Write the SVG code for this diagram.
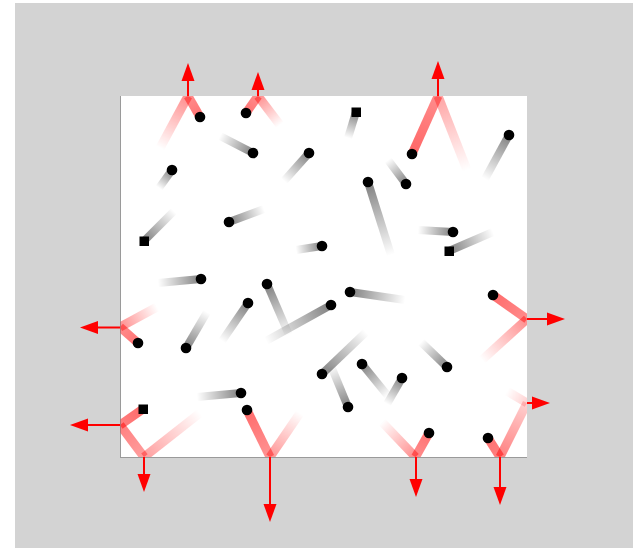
<svg xmlns="http://www.w3.org/2000/svg" xmlns:xlink="http://www.w3.org/1999/xlink" width="637" height="548" viewBox="0 0 637 548">
<style>
.tk{fill:none;stroke-width:8}
.tr{fill:none;stroke-width:9}
.dot{fill:#000}
.arr{stroke:#f00;stroke-width:2;fill:none}
</style>
<defs>
<clipPath id="box"><rect x="120.5" y="96" width="406.5" height="361"/></clipPath>
<filter id="soft" x="-5%" y="-5%" width="110%" height="110%"><feGaussianBlur stdDeviation="0.6"/></filter>
<marker id="ah" markerUnits="userSpaceOnUse" markerWidth="18" markerHeight="13" refX="0" refY="6.5" orient="auto" overflow="visible"><path d="M0,0 L18,6.5 L0,13 Z" fill="#f00"/></marker>
<linearGradient id="gk" gradientUnits="userSpaceOnUse"><stop offset="0" stop-color="#000" stop-opacity="0.5"/><stop offset="1" stop-color="#000" stop-opacity="0"/></linearGradient>
<linearGradient id="rk" gradientUnits="userSpaceOnUse"><stop offset="0" stop-color="#f00" stop-opacity="1"/><stop offset="1" stop-color="#f00" stop-opacity="0"/></linearGradient>
<linearGradient id="g1" xlink:href="#gk" x1="253" y1="153" x2="220" y2="136"/>
<linearGradient id="g2" xlink:href="#gk" x1="309" y1="153" x2="284" y2="181"/>
<linearGradient id="g3" xlink:href="#gk" x1="172" y1="170" x2="159" y2="188"/>
<linearGradient id="g4" xlink:href="#gk" x1="144" y1="241" x2="174" y2="211"/>
<linearGradient id="g5" xlink:href="#gk" x1="229" y1="222" x2="264" y2="209"/>
<linearGradient id="g6" xlink:href="#gk" x1="322" y1="246" x2="296" y2="250"/>
<linearGradient id="g7" xlink:href="#gk" x1="356" y1="112" x2="348" y2="138"/>
<linearGradient id="g8" xlink:href="#gk" x1="509" y1="135" x2="485" y2="179"/>
<linearGradient id="g9" xlink:href="#gk" x1="406" y1="184" x2="388" y2="160"/>
<linearGradient id="g10" xlink:href="#gk" x1="368" y1="182" x2="391" y2="255"/>
<linearGradient id="g11" xlink:href="#gk" x1="453" y1="232" x2="418" y2="230"/>
<linearGradient id="g12" xlink:href="#gk" x1="449" y1="251" x2="493" y2="232"/>
<linearGradient id="g13" xlink:href="#gk" x1="201" y1="279" x2="158" y2="283"/>
<linearGradient id="g14" xlink:href="#gk" x1="267" y1="284" x2="289" y2="335"/>
<linearGradient id="g15" xlink:href="#gk" x1="248" y1="303" x2="222" y2="341"/>
<linearGradient id="g16" xlink:href="#gk" x1="186" y1="348" x2="207" y2="312"/>
<linearGradient id="g17" xlink:href="#gk" x1="350" y1="292" x2="405" y2="300"/>
<linearGradient id="g18" xlink:href="#gk" x1="331" y1="305" x2="266" y2="341"/>
<linearGradient id="g19" xlink:href="#gk" x1="447" y1="367" x2="421" y2="342"/>
<linearGradient id="g20" xlink:href="#gk" x1="322" y1="374" x2="366" y2="332"/>
<linearGradient id="g21" xlink:href="#gk" x1="348" y1="407" x2="331" y2="366"/>
<linearGradient id="g22" xlink:href="#gk" x1="362" y1="364" x2="388" y2="396"/>
<linearGradient id="g23" xlink:href="#gk" x1="402" y1="378" x2="387" y2="404"/>
<linearGradient id="g24" xlink:href="#gk" x1="241" y1="393" x2="197" y2="397"/>
<linearGradient id="r1a" gradientUnits="userSpaceOnUse" x1="200" y1="117" x2="188" y2="96"><stop offset="0" stop-color="#f00" stop-opacity=".55"/><stop offset="1" stop-color="#f00" stop-opacity=".45"/></linearGradient>
<linearGradient id="r1b" xlink:href="#rk" x1="188" y1="96" x2="160" y2="148"/>
<linearGradient id="r2a" gradientUnits="userSpaceOnUse" x1="246" y1="113" x2="258" y2="96"><stop offset="0" stop-color="#f00" stop-opacity=".55"/><stop offset="1" stop-color="#f00" stop-opacity=".45"/></linearGradient>
<linearGradient id="r2b" xlink:href="#rk" x1="258" y1="96" x2="280" y2="125"/>
<linearGradient id="r3a" gradientUnits="userSpaceOnUse" x1="412" y1="154" x2="438" y2="96"><stop offset="0" stop-color="#f00" stop-opacity=".6"/><stop offset="1" stop-color="#f00" stop-opacity=".45"/></linearGradient>
<linearGradient id="r3b" xlink:href="#rk" x1="438" y1="96" x2="467" y2="170"/>
<linearGradient id="r4a" gradientUnits="userSpaceOnUse" x1="493" y1="295" x2="527" y2="319"><stop offset="0" stop-color="#f00" stop-opacity=".58"/><stop offset="1" stop-color="#f00" stop-opacity=".45"/></linearGradient>
<linearGradient id="r4b" xlink:href="#rk" x1="527" y1="319" x2="482" y2="360"/>
<linearGradient id="r5a" gradientUnits="userSpaceOnUse" x1="138" y1="343" x2="120" y2="327"><stop offset="0" stop-color="#f00" stop-opacity=".55"/><stop offset="1" stop-color="#f00" stop-opacity=".45"/></linearGradient>
<linearGradient id="r5b" xlink:href="#rk" x1="120" y1="327" x2="157" y2="307"/>
<linearGradient id="r6a" gradientUnits="userSpaceOnUse" x1="143" y1="409" x2="120" y2="425"><stop offset="0" stop-color="#f00" stop-opacity=".58"/><stop offset="1" stop-color="#f00" stop-opacity=".5"/></linearGradient>
<linearGradient id="r6b" gradientUnits="userSpaceOnUse" x1="120" y1="425" x2="144" y2="457"><stop offset="0" stop-color="#f00" stop-opacity=".5"/><stop offset="1" stop-color="#f00" stop-opacity=".38"/></linearGradient>
<linearGradient id="r6c" xlink:href="#rk" x1="144" y1="457" x2="200" y2="413"/>
<linearGradient id="r7a" gradientUnits="userSpaceOnUse" x1="247" y1="410" x2="270" y2="457"><stop offset="0" stop-color="#f00" stop-opacity=".58"/><stop offset="1" stop-color="#f00" stop-opacity=".42"/></linearGradient>
<linearGradient id="r7b" xlink:href="#rk" x1="270" y1="457" x2="300" y2="413"/>
<linearGradient id="r8a" gradientUnits="userSpaceOnUse" x1="429" y1="433" x2="415.5" y2="457"><stop offset="0" stop-color="#f00" stop-opacity=".55"/><stop offset="1" stop-color="#f00" stop-opacity=".45"/></linearGradient>
<linearGradient id="r8b" xlink:href="#rk" x1="415.5" y1="457" x2="382" y2="422"/>
<linearGradient id="r9a" gradientUnits="userSpaceOnUse" x1="488" y1="438" x2="500" y2="457"><stop offset="0" stop-color="#f00" stop-opacity=".55"/><stop offset="1" stop-color="#f00" stop-opacity=".5"/></linearGradient>
<linearGradient id="r9b" gradientUnits="userSpaceOnUse" x1="500" y1="457" x2="527" y2="403"><stop offset="0" stop-color="#f00" stop-opacity=".5"/><stop offset="1" stop-color="#f00" stop-opacity=".18"/></linearGradient>
<linearGradient id="r9c" xlink:href="#rk" x1="527" y1="403" x2="507" y2="391"/>
</defs>

<rect x="15" y="3" width="618" height="545" fill="#d3d3d3"/>
<g id="container">
<rect x="120" y="96" width="407" height="361" fill="#fff"/>
<line x1="120.5" y1="96" x2="120.5" y2="458" stroke="#9a9a9a" stroke-width="1"/>
<line x1="120" y1="457.5" x2="527" y2="457.5" stroke="#9a9a9a" stroke-width="1"/>
</g>

<g id="trails" clip-path="url(#box)">
<g filter="url(#soft)">
<line class="tk" stroke="url(#g1)" x1="253" y1="153" x2="220" y2="136"/>
<line class="tk" stroke="url(#g2)" x1="309" y1="153" x2="284" y2="181"/>
<line class="tk" stroke="url(#g3)" x1="172" y1="170" x2="159" y2="188"/>
<line class="tk" stroke="url(#g4)" x1="144" y1="241" x2="174" y2="211"/>
<line class="tk" stroke="url(#g5)" x1="229" y1="222" x2="264" y2="209"/>
<line class="tk" stroke="url(#g6)" x1="322" y1="246" x2="296" y2="250"/>
<line class="tk" stroke="url(#g7)" x1="356" y1="112" x2="348" y2="138"/>
<line class="tk" stroke="url(#g8)" x1="509" y1="135" x2="485" y2="179"/>
<line class="tk" stroke="url(#g9)" x1="406" y1="184" x2="388" y2="160"/>
<line class="tk" stroke="url(#g10)" x1="368" y1="182" x2="391" y2="255"/>
<line class="tk" stroke="url(#g11)" x1="453" y1="232" x2="418" y2="230"/>
<line class="tk" stroke="url(#g12)" x1="449" y1="251" x2="493" y2="232"/>
<line class="tk" stroke="url(#g13)" x1="201" y1="279" x2="158" y2="283"/>
<line class="tk" stroke="url(#g14)" x1="267" y1="284" x2="289" y2="335"/>
<line class="tk" stroke="url(#g15)" x1="248" y1="303" x2="222" y2="341"/>
<line class="tk" stroke="url(#g16)" x1="186" y1="348" x2="207" y2="312"/>
<line class="tk" stroke="url(#g17)" x1="350" y1="292" x2="405" y2="300"/>
<line class="tk" stroke="url(#g18)" x1="331" y1="305" x2="266" y2="341"/>
<line class="tk" stroke="url(#g19)" x1="447" y1="367" x2="421" y2="342"/>
<line class="tk" stroke="url(#g20)" x1="322" y1="374" x2="366" y2="332"/>
<line class="tk" stroke="url(#g21)" x1="348" y1="407" x2="331" y2="366"/>
<line class="tk" stroke="url(#g22)" x1="362" y1="364" x2="388" y2="396"/>
<line class="tk" stroke="url(#g23)" x1="402" y1="378" x2="387" y2="404"/>
<line class="tk" stroke="url(#g24)" x1="241" y1="393" x2="197" y2="397"/>

<line class="tr" stroke="url(#r1a)" x1="200" y1="117" x2="188" y2="96"/>
<line class="tr" stroke="url(#r1b)" stroke-opacity=".45" x1="188" y1="96" x2="160" y2="148"/>
<line class="tr" stroke="url(#r2a)" x1="246" y1="113" x2="258" y2="96"/>
<line class="tr" stroke="url(#r2b)" stroke-opacity=".45" x1="258" y1="96" x2="280" y2="125"/>
<line class="tr" stroke="url(#r3a)" x1="412" y1="154" x2="438" y2="96"/>
<line class="tr" stroke="url(#r3b)" stroke-opacity=".36" x1="438" y1="96" x2="467" y2="170"/>
<line class="tr" stroke="url(#r4a)" x1="493" y1="295" x2="527" y2="319"/>
<line class="tr" stroke="url(#r4b)" stroke-opacity=".45" x1="527" y1="319" x2="482" y2="360"/>
<line class="tr" stroke="url(#r5a)" x1="138" y1="343" x2="120" y2="327"/>
<line class="tr" stroke="url(#r5b)" stroke-opacity=".45" x1="120" y1="327" x2="157" y2="307"/>
<line class="tr" stroke="url(#r6a)" x1="143" y1="409" x2="120" y2="425"/>
<line class="tr" stroke="url(#r6b)" x1="120" y1="425" x2="144" y2="457"/>
<line class="tr" stroke="url(#r6c)" stroke-opacity=".38" x1="144" y1="457" x2="200" y2="413"/>
<line class="tr" stroke="url(#r7a)" x1="247" y1="410" x2="270" y2="457"/>
<line class="tr" stroke="url(#r7b)" stroke-opacity=".42" x1="270" y1="457" x2="300" y2="413"/>
<line class="tr" stroke="url(#r8a)" x1="429" y1="433" x2="415.5" y2="457"/>
<line class="tr" stroke="url(#r8b)" stroke-opacity=".45" x1="415.5" y1="457" x2="382" y2="422"/>
<line class="tr" stroke="url(#r9a)" x1="488" y1="438" x2="500" y2="457"/>
<line class="tr" stroke="url(#r9b)" x1="500" y1="457" x2="527" y2="403"/>
<line class="tr" stroke="url(#r9c)" stroke-opacity=".18" x1="527" y1="403" x2="507" y2="391"/>
</g>
</g>

<g id="arrows">
<line class="arr" marker-end="url(#ah)" x1="188" y1="96" x2="188" y2="81"/>
<line class="arr" marker-end="url(#ah)" x1="258" y1="96" x2="258" y2="90"/>
<line class="arr" marker-end="url(#ah)" x1="438" y1="96" x2="438" y2="79"/>
<line class="arr" marker-end="url(#ah)" x1="527" y1="319" x2="547" y2="319"/>
<line class="arr" marker-end="url(#ah)" x1="120" y1="327.5" x2="98" y2="327.5"/>
<line class="arr" marker-end="url(#ah)" x1="120" y1="425" x2="88" y2="425"/>
<line class="arr" marker-end="url(#ah)" x1="144" y1="457" x2="144" y2="474"/>
<line class="arr" marker-end="url(#ah)" x1="270" y1="457" x2="270" y2="504"/>
<line class="arr" marker-end="url(#ah)" x1="416" y1="457" x2="416" y2="479"/>
<line class="arr" marker-end="url(#ah)" x1="500" y1="457" x2="500" y2="487"/>
<line class="arr" marker-end="url(#ah)" x1="527" y1="403" x2="532" y2="403"/>
</g>

<g id="particles">
<circle class="dot" cx="253" cy="153" r="5.3"/>
<circle class="dot" cx="309" cy="153" r="5.3"/>
<circle class="dot" cx="172" cy="170" r="5.3"/>
<rect class="dot" x="139.5" y="236.5" width="9.5" height="9.5"/>
<circle class="dot" cx="229" cy="222" r="5.3"/>
<circle class="dot" cx="322" cy="246" r="5.3"/>
<rect class="dot" x="351.5" y="107.5" width="9.5" height="9.5"/>
<circle class="dot" cx="509" cy="135" r="5.3"/>
<circle class="dot" cx="406" cy="184" r="5.3"/>
<circle class="dot" cx="368" cy="182" r="5.3"/>
<circle class="dot" cx="453" cy="232" r="5.3"/>
<rect class="dot" x="444.5" y="246.5" width="9.5" height="9.5"/>
<circle class="dot" cx="201" cy="279" r="5.3"/>
<circle class="dot" cx="267" cy="284" r="5.3"/>
<circle class="dot" cx="248" cy="303" r="5.3"/>
<circle class="dot" cx="186" cy="348" r="5.3"/>
<circle class="dot" cx="350" cy="292" r="5.3"/>
<circle class="dot" cx="331" cy="305" r="5.3"/>
<circle class="dot" cx="447" cy="367" r="5.3"/>
<circle class="dot" cx="322" cy="374" r="5.3"/>
<circle class="dot" cx="348" cy="407" r="5.3"/>
<circle class="dot" cx="362" cy="364" r="5.3"/>
<circle class="dot" cx="402" cy="378" r="5.3"/>
<circle class="dot" cx="241" cy="393" r="5.3"/>
<circle class="dot" cx="200" cy="117" r="5.3"/>
<circle class="dot" cx="246" cy="113" r="5.3"/>
<circle class="dot" cx="412" cy="154" r="5.3"/>
<circle class="dot" cx="493" cy="295" r="5.3"/>
<circle class="dot" cx="138" cy="343" r="5.3"/>
<rect class="dot" x="138.5" y="404.5" width="9.5" height="9.5"/>
<circle class="dot" cx="247" cy="410" r="5.3"/>
<circle class="dot" cx="429" cy="433" r="5.3"/>
<circle class="dot" cx="488" cy="438" r="5.3"/>
</g>
</svg>
